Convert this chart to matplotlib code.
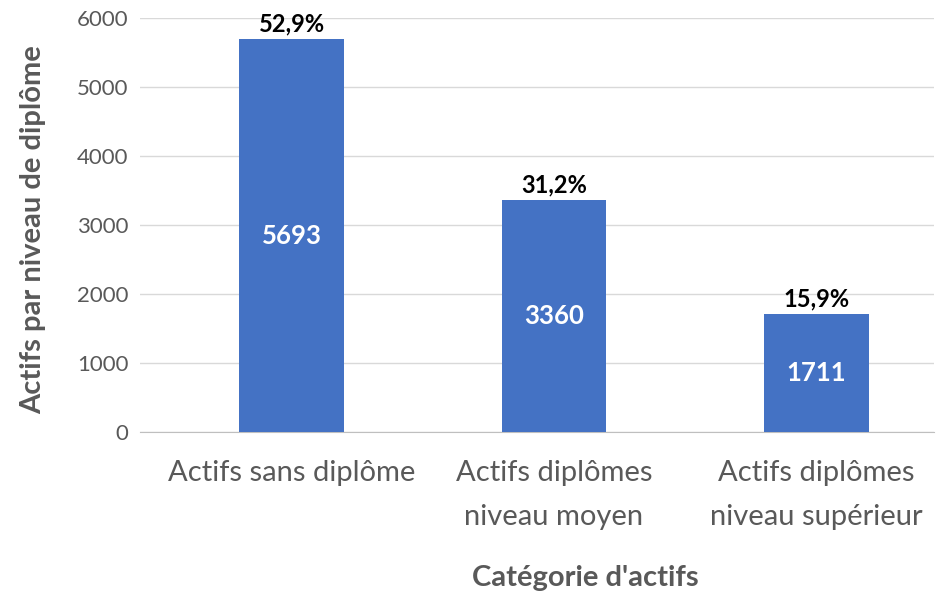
import matplotlib.pyplot as plt

categories = ["Actifs sans diplôme", "Actifs diplômes\nniveau moyen", "Actifs diplômes\nniveau supérieur"]
values = [5693, 3360, 1711]
percents = ["52,9%", "31,2%", "15,9%"]
y_ticks = [0, 1000, 2000, 3000, 4000, 5000, 6000]

plt.rcParams['font.family'] = ['Lato', 'DejaVu Sans']

fig = plt.figure(figsize=(9.38, 5.96), dpi=100)
ax = fig.add_axes([0.149, 0.275, 0.847, 0.695])

x = range(len(categories))
bars = ax.bar(x, values, width=0.4, color='#4472C4', zorder=3)

for i, b in enumerate(bars):
    h = b.get_height()
    ax.text(b.get_x() + b.get_width() / 2, h / 2, str(values[i]),
            ha='center', va='center', color='white', fontsize=18.5, fontweight='bold')
    ax.text(b.get_x() + b.get_width() / 2, h + 50, percents[i],
            ha='center', va='bottom', color='black', fontsize=17, fontweight='bold')

ax.set_xlim(-0.58, 2.45)
ax.set_ylim(0, 6000)
ax.set_yticks(y_ticks)
ax.set_xticks(list(x))
ax.set_xticklabels(categories, fontsize=21, color='#595959', linespacing=1.85)
ax.tick_params(axis='y', labelsize=16, labelcolor='#595959', length=0, pad=8)
ax.tick_params(axis='x', length=0, pad=20)
ax.grid(axis='y', color='#D9D9D9', linewidth=1, zorder=0)

for s in ['top', 'right', 'left']:
    ax.spines[s].set_visible(False)
ax.spines['bottom'].set_color('#BFBFBF')

# axis titles placed like the original chart
fig.text(33 / 938, 1 - 230 / 596, "Actifs par niveau de diplôme", rotation=90,
         ha='center', va='center', fontsize=21, fontweight='bold', color='#595959')
fig.text(585 / 938, 1 - 578 / 596, "Catégorie d'actifs",
         ha='center', va='center', fontsize=21, fontweight='bold', color='#595959')

plt.savefig("out.png", dpi=100)
